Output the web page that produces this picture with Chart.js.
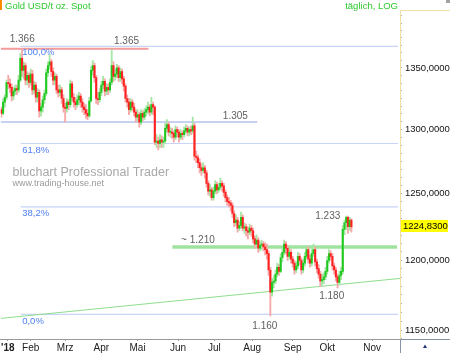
<!DOCTYPE html>
<html>
<head>
<meta charset="utf-8">
<script src="https://cdn.jsdelivr.net/npm/chart.js@4.4.1/dist/chart.umd.min.js"></script>
<style>
  html, body { margin: 0; padding: 0; background: #fff; overflow: hidden; }
</style>
</head>
<body>
<canvas id="goldChart" width="450" height="353"></canvas>
<script>
// Gold spot, daily candles. x = trading day counted from 2 Jan 2018 (day 0)
const firstDay = 5;

const opens = [
  1316,1313,1322,1326,1338,1337,1334,1327,1331,1333,
  1332,1340,1358,1348,1352,1340,1344,1338,1345,1332,
  1336,1326,1330,1315,1318,1324,1329,1346,1352,1355,
  1347,1340,1343,1332,1330,1332,1325,1318,1317,1322,
  1320,1337,1326,1322,1320,1324,1327,1322,1318,1316,
  1313,1311,1323,1348,1352,1342,1325,1324,1330,1336,
  1339,1331,1334,1332,1338,1352,1343,1345,1350,1342,
  1347,1341,1335,1325,1322,1316,1322,1318,1314,1310,
  1312,1306,1313,1310,1314,1316,1318,1314,1320,1318,
  1290,1291,1289,1292,1290,1291,1301,1304,1298,1298,
  1297,1294,1300,1298,1294,1297,1296,1299,1301,1298,
  1300,1299,1303,1279,1278,1274,1270,1268,1270,1266,
  1258,1252,1253,1247,1252,1257,1253,1255,1258,1256,
  1251,1247,1244,1243,1241,1235,1228,1230,1224,1226,
  1232,1224,1225,1222,1221,1224,1222,1216,1212,1215,
  1209,1211,1212,1210,1208,1205,1193,1177,1184,1185,
  1190,1195,1192,1202,1206,1212,1209,1203,1206,1201,
  1198,1193,1196,1203,1200,1193,1198,1203,1208,1201,
  1198,1205,1208,1199,1194,1190,1185,1186,1188,1192,
  1200,1205,1203,1196,1193,1188,1184,1189,1192,1223,
  1228,1232,1225,1230
];
const highs = [
  1318,1325,1328,1340,1344,1341,1337,1334,1336,1336,
  1344,1362,1366,1355,1354,1347,1346,1349,1348,1339,
  1338,1333,1332,1321,1327,1332,1349,1355,1361,1357,
  1350,1346,1345,1336,1336,1334,1328,1321,1325,1324,
  1340,1339,1329,1326,1328,1330,1329,1325,1321,1320,
  1316,1326,1351,1356,1354,1344,1330,1333,1339,1343,
  1341,1337,1337,1341,1365,1355,1349,1353,1352,1350,
  1349,1343,1337,1328,1325,1325,1324,1321,1316,1316,
  1314,1316,1315,1317,1319,1322,1320,1326,1322,1319,
  1296,1294,1296,1295,1294,1305,1308,1306,1302,1301,
  1299,1303,1302,1300,1300,1299,1302,1304,1303,1302,
  1303,1310,1305,1283,1280,1277,1273,1274,1272,1268,
  1260,1257,1255,1255,1260,1259,1258,1262,1260,1258,
  1253,1249,1247,1245,1243,1237,1234,1232,1229,1236,
  1234,1228,1227,1225,1227,1226,1224,1218,1219,1217,
  1214,1215,1214,1213,1212,1207,1195,1187,1189,1193,
  1198,1197,1205,1209,1215,1214,1211,1209,1208,1203,
  1200,1199,1206,1205,1202,1201,1206,1211,1210,1204,
  1208,1212,1210,1201,1197,1192,1190,1191,1195,1203,
  1208,1207,1205,1198,1195,1190,1192,1195,1226,1230,
  1233,1233,1232,1231
];
const lows = [
  1310,1312,1318,1324,1333,1330,1323,1324,1328,1328,
  1330,1339,1343,1341,1336,1336,1334,1336,1328,1329,
  1322,1322,1310,1311,1314,1321,1327,1343,1349,1343,
  1336,1336,1329,1326,1327,1321,1314,1306,1314,1316,
  1318,1323,1318,1316,1318,1320,1318,1314,1312,1309,
  1308,1310,1322,1344,1338,1321,1320,1322,1327,1333,
  1327,1328,1328,1330,1336,1339,1340,1342,1339,1339,
  1337,1331,1322,1318,1312,1314,1315,1311,1306,1307,
  1302,1304,1307,1308,1311,1313,1311,1312,1312,1288,
  1286,1284,1286,1286,1286,1289,1298,1295,1294,1293,
  1290,1292,1294,1290,1292,1292,1294,1297,1295,1295,
  1296,1297,1276,1274,1270,1266,1264,1266,1262,1255,
  1249,1248,1245,1245,1250,1250,1251,1253,1252,1248,
  1244,1241,1240,1237,1232,1225,1226,1221,1222,1224,
  1222,1220,1218,1216,1219,1218,1213,1209,1210,1206,
  1207,1208,1207,1204,1201,1189,1160,1174,1180,1183,
  1188,1189,1191,1199,1204,1205,1200,1201,1198,1195,
  1190,1191,1194,1197,1190,1191,1196,1201,1198,1195,
  1196,1203,1196,1191,1187,1181,1182,1183,1186,1190,
  1198,1200,1193,1190,1185,1180,1182,1186,1190,1219,
  1223,1220,1222,1221
];
const closes = [
  1313,1322,1326,1338,1337,1334,1327,1331,1333,1332,
  1340,1358,1348,1352,1340,1344,1338,1345,1332,1336,
  1326,1330,1315,1318,1324,1329,1346,1352,1355,1347,
  1340,1343,1332,1330,1332,1325,1318,1317,1322,1320,
  1337,1326,1322,1320,1324,1327,1322,1318,1316,1313,
  1311,1323,1348,1352,1342,1325,1324,1330,1336,1339,
  1331,1334,1332,1338,1352,1343,1345,1350,1342,1347,
  1341,1335,1325,1322,1316,1322,1318,1314,1310,1312,
  1306,1313,1310,1314,1316,1318,1314,1320,1318,1290,
  1291,1289,1292,1290,1291,1301,1304,1298,1298,1297,
  1294,1300,1298,1294,1297,1296,1299,1301,1298,1300,
  1299,1303,1279,1278,1274,1270,1268,1270,1266,1258,
  1252,1253,1247,1252,1257,1253,1255,1258,1256,1251,
  1247,1244,1243,1241,1235,1228,1230,1224,1226,1232,
  1224,1225,1222,1221,1224,1222,1216,1212,1215,1209,
  1211,1212,1210,1208,1205,1193,1177,1184,1185,1190,
  1195,1192,1202,1206,1212,1209,1203,1206,1201,1198,
  1193,1196,1203,1200,1193,1198,1203,1208,1201,1198,
  1205,1208,1199,1194,1190,1185,1186,1188,1192,1200,
  1205,1203,1196,1193,1188,1184,1189,1192,1223,1228,
  1232,1225,1230,1224.83
];

// axis labels
const monthDays = [8.7, 22, 42, 63, 84, 107.5, 128.5, 150.5, 174, 194, 220];
const monthNames = ["'18", 'Feb', 'Mrz', 'Apr', 'Mai', 'Jun', 'Jul', 'Aug', 'Sep', 'Okt', 'Nov'];
const priceTicks = [1150, 1200, 1250, 1300, 1350];

// drawn levels
const fibValues = [1368, 1289, 1240, 1161];
const fibLabels = ['100,0%', '61,8%', '38,2%', '0,0%'];
const fibDays = [16.2, 235];
const highLineValue = 1366, highLineDays = [4.6, 90.3];
const supportValue = 1306, supportDays = [4.6, 153.4];
const zoneValue = 1210, zoneDays = [104.2, 234.5];
const trendValues = [1158.2, 1186.9], trendDays = [4.6, 236.2];

// price notes
const noteTexts = ['1.366', '1.365', '1.305', '~ 1.210', '1.233', '1.180', '1.160'];
const noteValues = [1366, 1365, 1305, 1210, 1233, 1180, 1160];
const noteDays = [17.1, 77.6, 140.7, 119, 194.3, 196.6, 157.8];

const FONT = '"Liberation Sans", Arial, sans-serif';

const isUp = closes.map((c, i) => c >= opens[i]);
const wickData = highs.map((h, i) => ({ x: firstDay + i, y: [lows[i], h] }));
const bodyData = opens.map((o, i) => ({ x: firstDay + i, y: [o, closes[i]] }));

function levelLine(value, days, color, width) {
  return {
    type: 'line',
    data: [{ x: days[0], y: value }, { x: days[1], y: value }],
    borderColor: color, borderWidth: width,
    pointRadius: 0, fill: false, order: 3
  };
}

const datasets = [
  {
    type: 'bar', data: bodyData, order: 0,
    backgroundColor: isUp.map(u => u ? '#1ec81e' : '#ff2020'),
    barThickness: 1.4, minBarLength: 1, grouped: false
  },
  {
    type: 'bar', data: wickData, order: 1,
    backgroundColor: isUp.map(u => u ? '#a6e6a6' : '#f7a8a8'),
    barThickness: 1.2, grouped: false
  },
  levelLine(highLineValue, highLineDays, '#f49a9a', 2),
  levelLine(supportValue, supportDays, '#b4c2ee', 1.5),
  levelLine(zoneValue, zoneDays, '#9ee39e', 3.5),
  {
    type: 'line',
    data: [{ x: trendDays[0], y: trendValues[0] }, { x: trendDays[1], y: trendValues[1] }],
    borderColor: '#8edc8e', borderWidth: 1, pointRadius: 0, fill: false, order: 3
  }
];
fibValues.forEach(v => datasets.push(levelLine(v, fibDays, '#c8d4f8', 1.2)));

// minor tick dots on the price axis
const yTickValues = [];
for (let v = 1143.75; v <= 1397; v += 6.25) yTickValues.push(v);

const notePlacement = [-9, -8.5, -7, -6.5, 0, 8, 10];

const decor = {
  id: 'decor',
  beforeDraw(chart) {
    const c = chart.ctx;
    c.save();
    c.fillStyle = '#ffffff';
    c.fillRect(0, 0, chart.width, chart.height);
    c.fillStyle = '#ff8a00';
    c.fillRect(0, 0, 2, 10);
    c.font = '9.5px ' + FONT;
    c.fillStyle = '#2ec82e';
    c.textAlign = 'left';
    c.fillText('Gold USD/t oz. Spot', 5, 9);
    c.textAlign = 'right';
    c.fillText('täglich, LOG', 398, 9);
    c.fillStyle = '#a0a0a0';
    c.fillRect(446, 0, 4, 3);
    c.restore();
  },
  beforeDatasetsDraw(chart) {
    const c = chart.ctx;
    c.save();
    c.textAlign = 'left';
    c.fillStyle = '#a8a8a8';
    c.font = '12.5px ' + FONT;
    c.fillText('bluchart Professional Trader', 12.5, 175.5);
    c.fillStyle = '#9a9a9a';
    c.font = '9px ' + FONT;
    c.fillText('www.trading-house.net', 12.5, 186);
    c.restore();
  },
  afterDatasetsDraw(chart) {
    const c = chart.ctx, xs = chart.scales.x, ys = chart.scales.y;
    c.save();
    c.textBaseline = 'middle';
    c.font = '9.5px ' + FONT;
    c.fillStyle = '#4d7ff2';
    c.textAlign = 'left';
    fibValues.forEach((v, i) => {
      c.fillText(fibLabels[i], xs.getPixelForValue(fibDays[0]) + 1.5, ys.getPixelForValue(v) + 6.5);
    });
    c.font = '10px ' + FONT;
    c.fillStyle = '#606060';
    c.textAlign = 'center';
    noteTexts.forEach((t, i) => {
      c.fillText(t, xs.getPixelForValue(noteDays[i]), ys.getPixelForValue(noteValues[i]) + notePlacement[i]);
    });
    c.restore();
  },
  afterDraw(chart) {
    const c = chart.ctx, ys = chart.scales.y, area = chart.chartArea;
    c.save();
    // frame of price axis
    c.strokeStyle = '#f0e0a6';
    c.lineWidth = 1;
    c.beginPath();
    c.moveTo(area.right + 0.5, 10); c.lineTo(area.right + 0.5, area.bottom);
    c.moveTo(area.right, 10.5); c.lineTo(chart.width, 10.5);
    c.stroke();
    // bottom right corner box
    c.strokeStyle = '#8a94a8';
    c.beginPath();
    c.moveTo(area.right, area.bottom + 0.5); c.lineTo(chart.width, area.bottom + 0.5);
    c.moveTo(area.right + 0.5, area.bottom); c.lineTo(area.right + 0.5, chart.height);
    c.stroke();
    c.fillStyle = '#22347a';
    c.beginPath();
    c.moveTo(423, 348); c.lineTo(427, 348); c.lineTo(425, 344.5); c.closePath();
    c.fill();
    // last price tag
    const last = closes[closes.length - 1];
    const y = ys.getPixelForValue(last) - 1;
    c.fillStyle = '#ffff00';
    c.fillRect(area.right + 1, y - 6, 47, 12);
    c.fillStyle = '#000';
    c.font = '9.5px ' + FONT;
    c.textAlign = 'left';
    c.textBaseline = 'middle';
    c.fillText(last.toFixed(4).replace('.', ','), area.right + 3, y + 0.5);
    c.restore();
  }
};

new Chart(document.getElementById('goldChart').getContext('2d'), {
  type: 'bar',
  data: { datasets },
  options: {
    responsive: false,
    animation: false,
    layout: { padding: { top: 12, left: 0, right: 0, bottom: 0 } },
    plugins: { legend: { display: false }, tooltip: { enabled: false } },
    scales: {
      x: {
        type: 'linear', position: 'bottom',
        min: 4.6, max: 236.2, offset: false,
        afterBuildTicks: s => { s.ticks = monthDays.map(v => ({ value: v })); },
        afterFit: s => { s.height = 14; },
        grid: { drawOnChartArea: false, tickLength: 2, color: '#999', offset: false },
        border: { color: '#9a9a9a' },
        ticks: {
          autoSkip: false, maxRotation: 0, padding: 1, color: '#222',
          font: ctx => ({ family: FONT, size: 10, weight: ctx.index === 0 ? 'bold' : 'normal' }),
          callback: (v, i) => monthNames[i]
        }
      },
      y: {
        type: 'logarithmic', position: 'right',
        min: 1143.7, max: 1397,
        afterBuildTicks: s => { s.ticks = yTickValues.map(v => ({ value: v })); },
        afterFit: s => { s.width = 50; },
        grid: { drawOnChartArea: false, tickLength: 2, color: '#aaa' },
        border: { color: '#f0e0a6' },
        ticks: {
          autoSkip: false, padding: 3, color: '#111',
          font: { family: FONT, size: 9.5 },
          callback: v => priceTicks.includes(v) ? v.toFixed(4).replace('.', ',') : ''
        }
      }
    }
  },
  plugins: [decor]
});
</script>
</body>
</html>
